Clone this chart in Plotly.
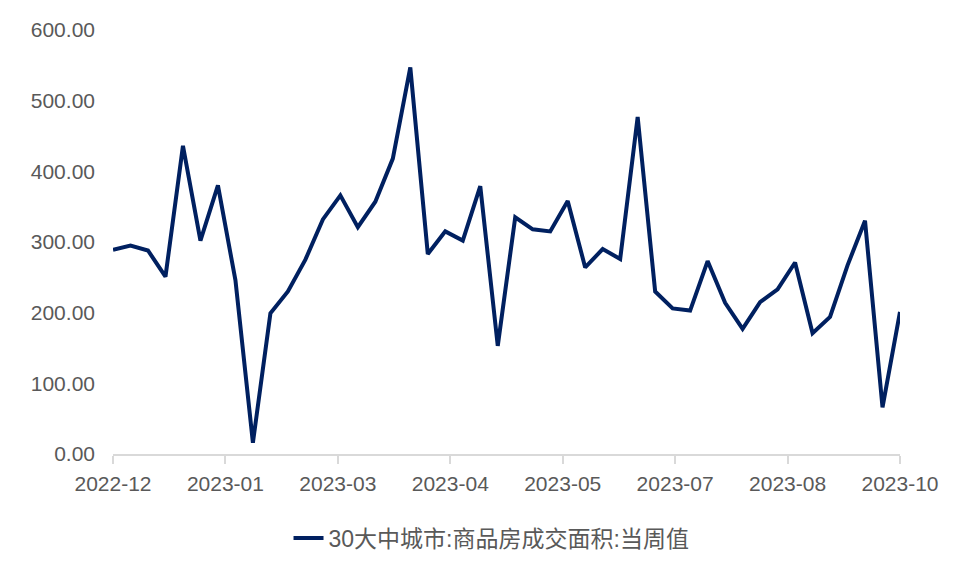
import plotly.graph_objects as go

dates = [
    "2022-12-02", "2022-12-09", "2022-12-16", "2022-12-23", "2022-12-30",
    "2023-01-06", "2023-01-13", "2023-01-20", "2023-01-27",
    "2023-02-03", "2023-02-10", "2023-02-17", "2023-02-24",
    "2023-03-03", "2023-03-10", "2023-03-17", "2023-03-24", "2023-03-31",
    "2023-04-07", "2023-04-14", "2023-04-21", "2023-04-28",
    "2023-05-05", "2023-05-12", "2023-05-19", "2023-05-26",
    "2023-06-02", "2023-06-09", "2023-06-16", "2023-06-23", "2023-06-30",
    "2023-07-07", "2023-07-14", "2023-07-21", "2023-07-28",
    "2023-08-04", "2023-08-11", "2023-08-18", "2023-08-25",
    "2023-09-01", "2023-09-08", "2023-09-15", "2023-09-22", "2023-09-29",
    "2023-10-06", "2023-10-13",
]

values = [
    289, 295, 288, 251, 436, 302, 380, 246, 16,
    199, 230, 275, 332, 366, 321, 357, 418, 547,
    283, 315, 302, 379, 153, 335, 318, 315, 358,
    264, 290, 276, 477, 230, 206, 203, 273, 214,
    177, 215, 233, 271, 171, 194, 267, 330, 66, 201,
]

tick_dates = ["2022-12-02", "2023-01-16", "2023-03-02", "2023-04-16",
              "2023-05-31", "2023-07-15", "2023-08-29", "2023-10-13"]
tick_labels = ["2022-12", "2023-01", "2023-03", "2023-04",
               "2023-05", "2023-07", "2023-08", "2023-10"]

series_name = "30大中城市:商品房成交面积:当周值"

font_family = "Liberation Sans, Noto Sans CJK SC, sans-serif"
text_color = "#595959"

fig = go.Figure()
fig.add_trace(go.Scatter(
    x=dates, y=values, mode="lines", name=series_name,
    line=dict(color="#002060", width=4),
    cliponaxis=False,
))

fig.update_layout(
    width=960, height=576,
    margin=dict(l=113, r=60, t=30, b=122),
    paper_bgcolor="white", plot_bgcolor="white",
    font=dict(family=font_family, size=21, color=text_color),
    showlegend=True,
    legend=dict(
        orientation="h", xref="container", yref="container",
        x=0.512, xanchor="center", y=0.066, yanchor="middle",
        font=dict(size=23, color=text_color),
    ),
    xaxis=dict(
        type="date",
        range=[dates[0], dates[-1]],
        tickvals=tick_dates, ticktext=tick_labels,
        showline=True, linecolor="#d9d9d9", linewidth=2,
        ticks="outside", ticklen=8, tickwidth=2, tickcolor="#d9d9d9",
        showgrid=False, zeroline=False,
        ticklabelstandoff=2,
        tickfont=dict(size=21, color=text_color),
    ),
    yaxis=dict(
        range=[0, 600], dtick=100, tickformat=".2f",
        showline=False, showgrid=False, zeroline=False,
        ticks="", ticklabelstandoff=17,
        tickfont=dict(size=21, color=text_color),
    ),
)

fig.write_html("out.html")
